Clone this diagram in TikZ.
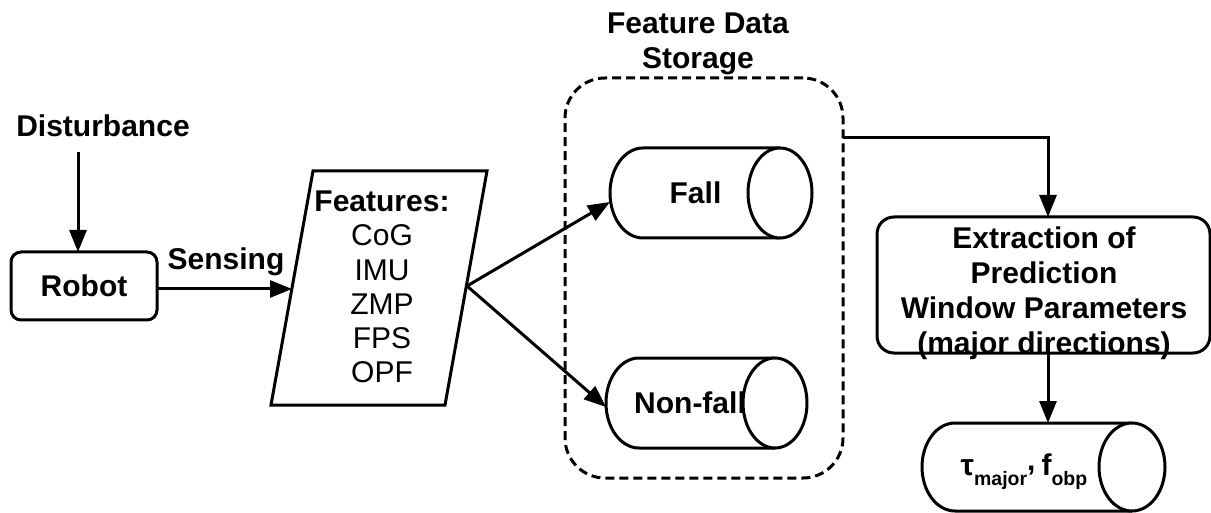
\documentclass[tikz,border=0pt]{standalone}
\usepackage{fontspec}
\setmainfont{Liberation Sans}
\usetikzlibrary{arrows.meta,calc}
\begin{document}
\begin{tikzpicture}[x=1pt,y=-1pt,
  line width=3pt,
  every node/.style={font=\fontsize{30}{35}\selectfont\bfseries, inner sep=0pt, outer sep=0pt},
  arr/.style={-{Triangle[length=22pt,width=17pt]}},
  box/.style={draw, rounded corners=10pt},
  ghost/.style={draw=none}
]
\useasboundingbox (0,0) rectangle (1211,513);

% Disturbance and robot
\node[anchor=base] (dist) at (103,137) {Disturbance};
\node[box, minimum width=146pt, minimum height=68pt] (robot) at (84,286) {Robot};
\coordinate (d1) at (78,152);
\draw[arr] (d1) -- (d1 |- robot.north);

% Sensing
\node[anchor=base] (sensing) at (226,270) {Sensing};

% Features parallelogram
\coordinate (f1) at (313,171);
\coordinate (f2) at (487,171);
\coordinate (f3) at (445,405);
\coordinate (f4) at (271,405);
\draw[line join=miter] (f1) -- (f2) -- (f3) -- (f4) -- cycle;
\node[align=center, font=\fontsize{30}{34.2}\selectfont] (feat) at (382,287)
  {\textbf{Features:}\\CoG\\IMU\\ZMP\\FPS\\OPF};
\coordinate (featL) at (292,289);
\coordinate (featR) at (467,286);
\draw[arr] (robot.east |- featL) -- (featL);

% Feature data storage
\node[draw, dash pattern=on 9pt off 5pt, rounded corners=40pt, minimum width=278pt, minimum height=400pt] (store) at (704,278) {};
\node[align=center] (storetitle) at (698,44) {Feature Data\\Storage};

% Fall cylinder
\node[ghost, minimum width=202pt, minimum height=90pt] (fallcyl) at (711,193) {};
\draw (780,148) -- (643,148) arc[start angle=90, end angle=270, x radius=33pt, y radius=45pt] -- (780,238);
\node[anchor=base] (fall) at (695.5,204) {Fall};
\draw[fill=white] (780,193) ellipse[x radius=32pt, y radius=45pt];

% Non-fall cylinder
\node[ghost, minimum width=201pt, minimum height=90pt] (nonfallcyl) at (706.5,403) {};
\draw (775,358) -- (639,358) arc[start angle=90, end angle=270, x radius=33pt, y radius=45pt] -- (775,448);
\node[anchor=base] (nonfall) at (690,413) {Non-fall};
\draw[fill=white] (775,403) ellipse[x radius=32pt, y radius=45pt];

\draw[arr] (featR) -- ([yshift=-9pt]fallcyl.west);
\draw[arr] (featR) -- ([yshift=-4pt]nonfallcyl.west);

% Extraction box
\node[draw, rounded corners=17pt, minimum width=333pt, minimum height=136pt] (ext) at (1043.5,285) {};
\node[align=center] (exttxt) at (1044,293) {Extraction of\\Prediction\\Window Parameters\\(major directions)};

\coordinate (s1) at (store.east |- 0,138);
\draw[arr] (s1) -| ([xshift=4.5pt]ext.north);

% Output cylinder
\node[ghost, minimum width=243pt, minimum height=88pt] (taucyl) at (1043.5,467) {};
\draw (1132,423) -- (955,423) arc[start angle=90, end angle=270, x radius=33pt, y radius=44pt] -- (1132,511);
\draw[fill=white] (1132,467) ellipse[x radius=33pt, y radius=44pt];
\node[anchor=base] (tau) at (1024,475)
  {τ\raisebox{-10pt}{\fontsize{19.5}{20}\selectfont major}\raisebox{5pt}{,}\hspace{6pt}f\raisebox{-10pt}{\fontsize{19.5}{20}\selectfont obp}};

\draw[arr] ([xshift=4.5pt]ext.south) -- ([xshift=4.5pt]taucyl.north);
\end{tikzpicture}
\end{document}
